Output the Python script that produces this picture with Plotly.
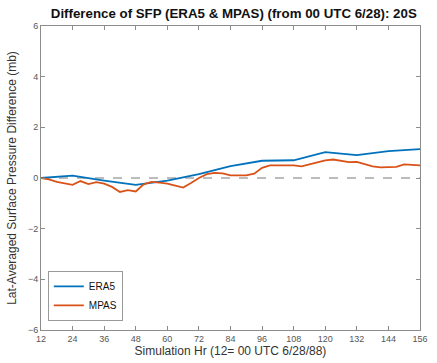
import plotly.graph_objects as go

# ERA5 lat-averaged surface pressure difference, 12-hourly (mb)
era5_hours = [12, 24, 36, 48, 60, 72, 84, 96, 108, 120, 132, 144, 156]
era5_diff = [0.0, 0.09, -0.1, -0.27, -0.1, 0.15, 0.47, 0.68, 0.7, 1.02, 0.9, 1.06, 1.14]

# MPAS lat-averaged surface pressure difference, 3-hourly (mb)
mpas_hours = list(range(12, 157, 3))
mpas_diff = [0.0, -0.05, -0.15, -0.2, -0.27, -0.12, -0.24, -0.16, -0.22, -0.35,
             -0.55, -0.48, -0.53, -0.25, -0.15, -0.18, -0.22, -0.3, -0.38, -0.2,
             0.0, 0.15, 0.2, 0.18, 0.1, 0.1, 0.1, 0.17, 0.4, 0.5,
             0.5, 0.52, 0.5, 0.46, 0.55, 0.64, 0.7, 0.73, 0.67, 0.63,
             0.64, 0.55, 0.46, 0.42, 0.44, 0.44, 0.54, 0.52, 0.5]

x_ticks = list(range(12, 157, 12))
y_ticks = [-6, -4, -2, 0, 2, 4, 6]

FONT = "Liberation Sans, Arial, Helvetica, sans-serif"
AXIS_GREY = "#8c8c8c"

fig = go.Figure()

# zero reference line
fig.add_trace(go.Scatter(
    x=[x_ticks[0], x_ticks[-1]], y=[0, 0], mode="lines",
    line=dict(color="#a6a6a6", width=1.5, dash="dash"),
    showlegend=False, hoverinfo="skip"))

fig.add_trace(go.Scatter(
    x=era5_hours, y=era5_diff, mode="lines", name="ERA5",
    line=dict(color="#0072BD", width=1.8)))
fig.add_trace(go.Scatter(
    x=mpas_hours, y=mpas_diff, mode="lines", name="MPAS",
    line=dict(color="#D95319", width=1.8)))

axis_common = dict(
    showgrid=False, zeroline=False, showline=True, linecolor=AXIS_GREY,
    linewidth=1, mirror="ticks", ticks="inside", ticklen=4,
    tickcolor=AXIS_GREY, tickfont=dict(family=FONT, size=9, color="#555555"),
)

fig.update_layout(
    width=437, height=363,
    margin=dict(l=41, r=9, t=26, b=30),
    paper_bgcolor="white", plot_bgcolor="white",
    font=dict(family=FONT, color="#222222"),
    title=dict(
        text="<b>Difference of SFP (ERA5 & MPAS) (from 00 UTC 6/28): 20S</b>",
        x=0.535, xanchor="center", y=0.962, yanchor="middle",
        font=dict(family=FONT, size=13.3, color="#111111")),
    xaxis=dict(
        range=[12, 156], tickvals=x_ticks,
        title=dict(text="Simulation Hr (12= 00 UTC 6/28/88)",
                   font=dict(family=FONT, size=12, color="#333333"), standoff=2),
        **axis_common),
    yaxis=dict(
        range=[-6, 6], tickvals=y_ticks,
        title=dict(text="Lat-Averaged Surface Pressure Difference (mb)",
                   font=dict(family=FONT, size=12, color="#333333"), standoff=8),
        **axis_common),
    legend=dict(
        x=0.018, y=0.03, xanchor="left", yanchor="bottom",
        bgcolor="white", bordercolor="#9a9a9a", borderwidth=1,
        font=dict(family=FONT, size=10, color="#111111"),
        tracegroupgap=0, itemwidth=30),
)

fig.write_html("out.html")
